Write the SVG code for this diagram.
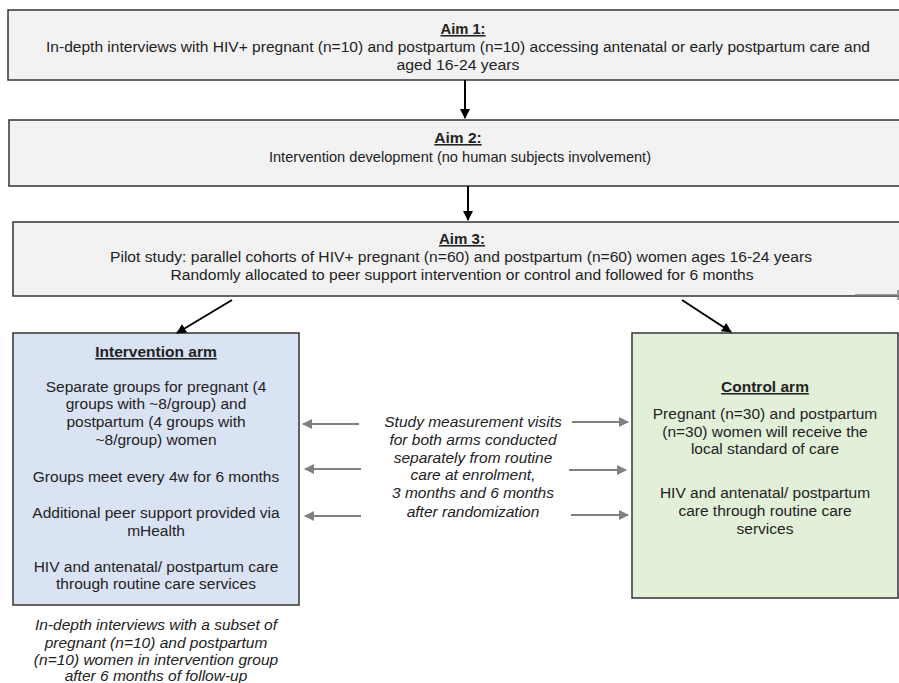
<svg xmlns="http://www.w3.org/2000/svg" width="899" height="683" viewBox="0 0 899 683">
<defs>
<marker id="ab" viewBox="0 0 10 10" refX="9" refY="5" markerWidth="5" markerHeight="5" orient="auto" markerUnits="strokeWidth"><path d="M0,0 L10,5 L0,10 z" fill="#000"/></marker>
<marker id="ag" viewBox="0 0 10 10" refX="9" refY="5" markerWidth="5" markerHeight="5" orient="auto" markerUnits="strokeWidth"><path d="M0,0 L10,5 L0,10 z" fill="#808080"/></marker>
<style>
text{font-family:"Liberation Sans",Arial,sans-serif;fill:#222;text-anchor:middle}
.aim{font-size:15.5px;font-weight:bold;text-decoration:underline}
.t{font-size:15.5px}
.it{font-size:15.5px;font-style:italic}
.box{fill:#f2f2f2;stroke:#333;stroke-width:1.5}
.blk{stroke:#000;stroke-width:2;fill:none;marker-end:url(#ab)}
.gry{stroke:#808080;stroke-width:2;fill:none;marker-end:url(#ag)}
</style>
</defs>
<rect width="899" height="683" fill="#fff"/>
<g id="aim1">
<rect class="box" x="8" y="10" width="900" height="70"/>
<text class="aim" x="463" y="34" textLength="45" lengthAdjust="spacingAndGlyphs">Aim 1:</text>
<text class="t" x="458" y="52" textLength="824" lengthAdjust="spacingAndGlyphs">In-depth interviews with HIV+ pregnant (n=10) and postpartum (n=10) accessing antenatal or early postpartum care and</text>
<text class="t" x="458" y="70" textLength="123" lengthAdjust="spacingAndGlyphs">aged 16-24 years</text>
</g>
<g id="aim2">
<rect class="box" x="9" y="120" width="900" height="66"/>
<text class="aim" x="458" y="143">Aim 2:</text>
<text x="460" y="162" font-size="14.6px">Intervention development (no human subjects involvement)</text>
</g>
<g id="aim3">
<rect class="box" x="13" y="222" width="900" height="74"/>
<text class="aim" x="462" y="244" textLength="46" lengthAdjust="spacingAndGlyphs">Aim 3:</text>
<text class="t" x="461" y="262" textLength="702" lengthAdjust="spacingAndGlyphs">Pilot study: parallel cohorts of HIV+ pregnant (n=60) and postpartum (n=60) women ages 16-24 years</text>
<text class="t" x="462" y="280" textLength="583" lengthAdjust="spacingAndGlyphs">Randomly allocated to peer support intervention or control and followed for 6 months</text>
<path d="M855,295 H898 M898,290 V300" stroke="#808080" stroke-width="1.5" fill="none"/>
</g>
<g id="intervention">
<rect x="13" y="333" width="286" height="272" fill="#dae3f3" stroke="#333" stroke-width="1.5"/>
<text class="t" font-weight="bold" text-decoration="underline" x="156" y="357">Intervention arm</text>
<text class="t" x="156" y="392">Separate groups for pregnant (4</text>
<text class="t" x="156" y="409">groups with ~8/group) and</text>
<text class="t" x="156" y="427">postpartum (4 groups with</text>
<text class="t" x="156" y="445">~8/group) women</text>
<text class="t" x="156" y="482">Groups meet every 4w for 6 months</text>
<text class="t" x="156" y="518">Additional peer support provided via</text>
<text class="t" x="156" y="536">mHealth</text>
<text class="t" x="156" y="572">HIV and antenatal/ postpartum care</text>
<text class="t" x="156" y="589">through routine care services</text>
</g>
<g id="interviews">
<text class="it" x="156" y="630">In-depth interviews with a subset of</text>
<text class="it" x="156" y="648">pregnant (n=10) and postpartum</text>
<text class="it" x="156" y="665">(n=10) women in intervention group</text>
<text class="it" x="156" y="681">after 6 months of follow-up</text>
</g>
<g id="control">
<rect x="632" y="333" width="266" height="265" fill="#e2efd9" stroke="#333" stroke-width="1.5"/>
<text class="t" font-weight="bold" text-decoration="underline" x="765" y="392">Control arm</text>
<text class="t" x="765" y="419">Pregnant (n=30) and postpartum</text>
<text class="t" x="765" y="437">(n=30) women will receive the</text>
<text class="t" x="765" y="454">local standard of care</text>
<text class="t" x="765" y="498">HIV and antenatal/ postpartum</text>
<text class="t" x="765" y="516">care through routine care</text>
<text class="t" x="765" y="534">services</text>
</g>
<g id="measurement">
<text class="it" x="473" y="427">Study measurement visits</text>
<text class="it" x="473" y="445">for both arms conducted</text>
<text class="it" x="473" y="463">separately from routine</text>
<text class="it" x="473" y="480">care at enrolment,</text>
<text class="it" x="473" y="498">3 months and 6 months</text>
<text class="it" x="473" y="517">after randomization</text>
</g>
<g id="connectors">
<line class="blk" x1="465" y1="80" x2="465" y2="118"/>
<line class="blk" x1="468" y1="186" x2="468" y2="220"/>
<line class="blk" x1="232" y1="300" x2="177" y2="333"/>
<line class="blk" x1="682" y1="300" x2="731" y2="332"/>
<line class="gry" x1="359" y1="424" x2="303" y2="424"/>
<line class="gry" x1="361" y1="469" x2="305" y2="469"/>
<line class="gry" x1="361" y1="516" x2="305" y2="516"/>
<line class="gry" x1="572" y1="422" x2="628" y2="422"/>
<line class="gry" x1="569" y1="470" x2="626" y2="470"/>
<line class="gry" x1="571" y1="515" x2="628" y2="515"/>
</g>
</svg>
